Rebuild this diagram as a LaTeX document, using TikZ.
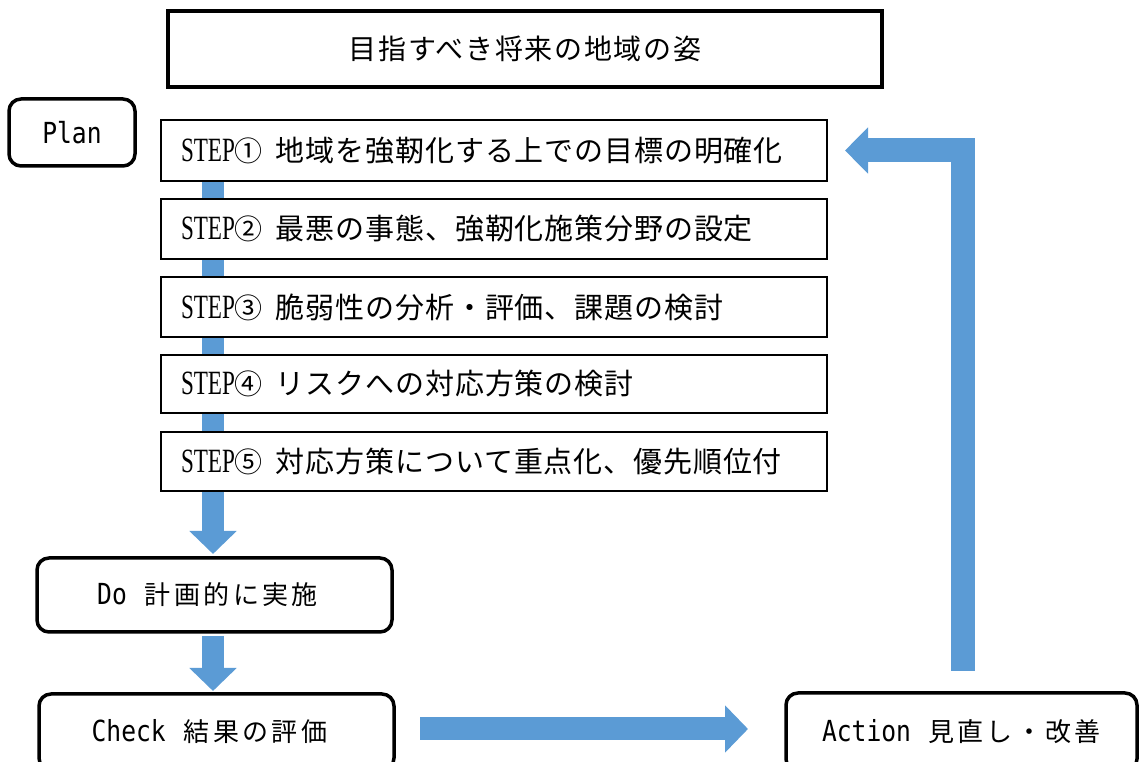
\documentclass[tikz,border=0pt]{standalone}
\usepackage{fontspec}
\setmainfont{Liberation Serif}
\newfontfamily\cjk{Noto Sans CJK JP}
\newfontfamily\cjkw[LetterSpace=13]{Noto Sans CJK JP}
\newfontfamily\cjkt[LetterSpace=6]{Noto Sans CJK JP}
\newfontfamily\cjks[LetterSpace=3]{Noto Sans CJK JP}
\newfontfamily\gmono[FakeStretch=0.85]{DejaVu Sans Mono}
\newfontfamily\serifn[FakeStretch=0.68]{Liberation Serif}
\usetikzlibrary{arrows.meta,calc,backgrounds}
\definecolor{arrowblue}{RGB}{91,155,213}
\newcommand\steplabel[2]{{\serifn\fontsize{34}{36}\selectfont STEP}{\cjk\fontsize{28}{32}\selectfont #1}\hspace{13pt}{\cjks\fontsize{29}{32}\selectfont #2}}
\begin{document}
\begin{tikzpicture}[x=1pt,y=1pt,
  titlebox/.style={draw, line width=4.5pt, inner sep=0pt, outer sep=0pt,
    minimum width=714pt, minimum height=76pt,
    font=\cjkt\fontsize{28}{32}\selectfont},
  phasebox/.style={draw, line width=3.5pt, rounded corners=12pt, fill=white,
    inner sep=0pt, outer sep=0pt, minimum width=355pt},
  stepbox/.style={draw, line width=2pt, fill=white, inner sep=0pt, outer sep=0pt,
    minimum width=666pt, text width=626pt, align=left},
]
\useasboundingbox (0,0) rectangle (1141,762);

\node[titlebox] (title) at (525,713) {目指すべき将来の地域の姿};

\node[phasebox, minimum width=126pt, minimum height=67pt] (plan) at (72,629.5)
  {\gmono\fontsize{29}{32}\selectfont Plan};

\node[stepbox, minimum height=61pt] (step1) at (494,611.5) {\steplabel{①}{地域を強靭化する上での目標の明確化}};
\node[stepbox, minimum height=60pt] (step2) at (494,533) {\steplabel{②}{最悪の事態、強靭化施策分野の設定}};
\node[stepbox, minimum height=60pt] (step3) at (494,455) {\steplabel{③}{脆弱性の分析・評価、課題の検討}};
\node[stepbox, minimum height=58pt] (step4) at (494,378) {\steplabel{④}{リスクへの対応方策の検討}};
\node[stepbox, minimum height=59pt] (step5) at (494,300.5) {\steplabel{⑤}{対応方策について重点化、優先順位付}};

\node[phasebox, minimum height=74pt] (do) at (214.5,167)
  {{\gmono\fontsize{29}{32}\selectfont Do}\kern18pt{\cjkw\fontsize{26}{30}\selectfont 計画的に実施}\kern14pt};
\node[phasebox, minimum height=76pt] (check) at (216.5,30)
  {{\gmono\fontsize{29}{32}\selectfont Check}\kern18pt{\cjkw\fontsize{26}{30}\selectfont 結果の評価}\kern14pt};
\node[phasebox, minimum width=351pt, minimum height=78pt] (action) at (961.5,30)
  {{\gmono\fontsize{29}{32}\selectfont Action}\kern17pt{\cjkw\fontsize{26}{30}\selectfont 見直し・改善}};

\begin{scope}[on background layer]
  \coordinate (a1s) at ($(step1.south west)+(52,0)$);
  \draw[draw=arrowblue, line width=22pt, -{Triangle[width=46pt,length=23pt]}]
    (a1s) -- ($(a1s |- do.north)+(0,4)$);
\end{scope}
\draw[draw=arrowblue, line width=22pt, -{Triangle[width=46pt,length=23pt]}]
  ($(do.south)+(-1.5,-4)$) -- ($(check.north)+(-3.5,3)$);
\draw[draw=arrowblue, line width=23pt, -{Triangle[width=46pt,length=23pt]}]
  ($(check.east)+(26,3)$) -- ($(action.west)+(-38,3)$);
\draw[draw=arrowblue, line width=24pt, line join=miter, -{Triangle[width=45pt,length=23pt]}]
  ($(action.north)+(1.5,22)$) |- ($(step1.east)+(18,0)$);
\end{tikzpicture}
\end{document}
